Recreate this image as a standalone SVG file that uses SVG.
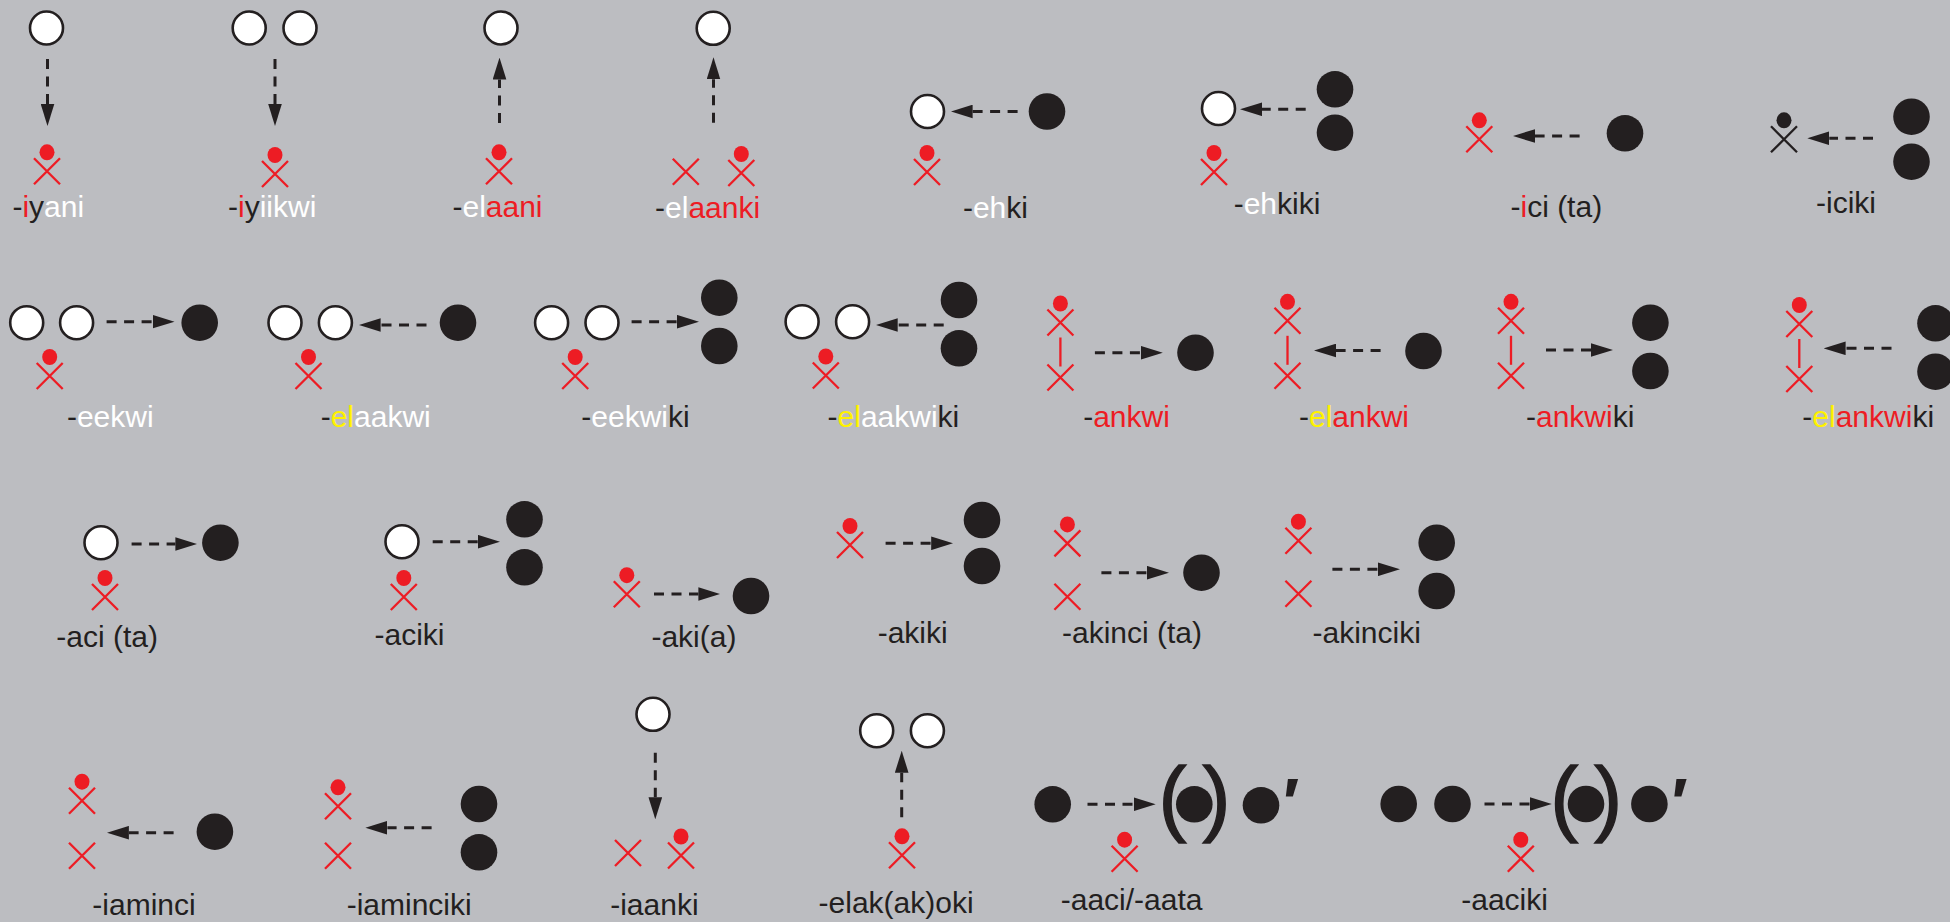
<svg xmlns="http://www.w3.org/2000/svg" xmlns:xlink="http://www.w3.org/1999/xlink" width="1950" height="922" viewBox="0 0 1950 922">
<style>
.w{fill:#fff;stroke:#231f20;stroke-width:2.6}
.b{fill:#231f20}
.arr{fill:none;stroke:#231f20;stroke-width:3;stroke-dasharray:10 7.5;marker-end:url(#ah)}
.rl{stroke:#ed1c24;stroke-width:2.3;fill:none}
.lbl{font-family:"Liberation Sans",Arial,sans-serif;font-size:30px;fill:#231f20;text-anchor:middle}
.r{fill:#ed1c24}.wt{fill:#fff}.y{fill:#fff200}
.par{font-family:"Liberation Sans",Arial,sans-serif;font-size:84px;fill:#231f20;stroke:#231f20;stroke-width:1.3;text-anchor:middle}
.pr{font-family:"Liberation Sans",Arial,sans-serif;font-weight:bold;font-size:68px;fill:#231f20}
</style>
<defs>
<marker id="ah" markerUnits="userSpaceOnUse" markerWidth="22" markerHeight="14" viewBox="0 0 21 13" refX="0" refY="6.5" orient="auto"><path d="M0,0 L21,6.5 L0,13 Z" fill="#231f20"/></marker>
<g id="xm"><path class="rl" d="M-13,-13 L13,13 M13,-13 L-13,13"/></g>
<g id="ps"><ellipse cx="0" cy="-19" rx="7.5" ry="8" fill="#ed1c24"/><path class="rl" d="M-13,-13 L13,13 M13,-13 L-13,13"/></g>
<g id="psk"><ellipse cx="0" cy="-19" rx="7.5" ry="8" fill="#231f20"/><path d="M-13,-13 L13,13 M13,-13 L-13,13" stroke="#231f20" stroke-width="2.3"/></g>
<g id="stk"><use xlink:href="#ps"/><path class="rl" d="M0,15 V44"/><use xlink:href="#xm" y="55"/></g>
</defs>
<rect width="1950" height="922" fill="#bcbdc1"/>

<g id="connectors">
<path class="arr" d="M47.5,59 V104"/>
<path class="arr" d="M275,59 V104"/>
<path class="arr" d="M499.5,123 V79.5"/>
<path class="arr" d="M713.5,122.7 V79.3"/>
<path class="arr" d="M1017.6,111.5 H972.6"/>
<path class="arr" d="M1305.7,109.3 H1262"/>
<path class="arr" d="M1579.6,136 H1535"/>
<path class="arr" d="M1873,138.3 H1829.3"/>
<path class="arr" d="M106.6,321.7 H152.5"/>
<path class="arr" d="M426.5,325 H380.6"/>
<path class="arr" d="M631.6,321.7 H677"/>
<path class="arr" d="M943.7,325 H897.7"/>
<path class="arr" d="M1094.9,352.7 H1140.8"/>
<path class="arr" d="M1380.6,350.5 H1336"/>
<path class="arr" d="M1546,350 H1591"/>
<path class="arr" d="M1891.5,348.3 H1845.6"/>
<path class="arr" d="M131.6,544 H175.4"/>
<path class="arr" d="M432.7,541.7 H478"/>
<path class="arr" d="M654,594 H698.4"/>
<path class="arr" d="M885.6,543.3 H931.2"/>
<path class="arr" d="M1101.4,572.7 H1147"/>
<path class="arr" d="M1332.4,569.3 H1378"/>
<path class="arr" d="M173.6,832.7 H128.9"/>
<path class="arr" d="M431.6,827.7 H387.4"/>
<path class="arr" d="M655.3,752.7 V797.3"/>
<path class="arr" d="M901.7,817.3 V772.7"/>
<path class="arr" d="M1087.5,804.3 H1133.7"/>
<path class="arr" d="M1484.5,804 H1529.8"/>
</g>

<g id="n-iyani">
<circle class="w" cx="46.5" cy="28" r="16.5"/>
<use xlink:href="#ps" x="47" y="171.3"/>
<text class="lbl" x="48.3" y="216.7">-<tspan class="r">i</tspan>y<tspan class="wt">ani</tspan></text>
</g>
<g id="n-iyiikwi">
<circle class="w" cx="249.2" cy="28" r="16.5"/><circle class="w" cx="300" cy="28" r="16.5"/>
<use xlink:href="#ps" x="275" y="174"/>
<text class="lbl" x="272.2" y="216.7">-<tspan class="r">i</tspan>y<tspan class="wt">iikwi</tspan></text>
</g>
<g id="n-elaani">
<circle class="w" cx="501" cy="28" r="16.5"/>
<use xlink:href="#ps" x="499" y="171.3"/>
<text class="lbl" x="497.5" y="216.7">-<tspan class="wt">el</tspan><tspan class="r">aani</tspan></text>
</g>
<g id="n-elaanki">
<circle class="w" cx="713.2" cy="28.3" r="16.5"/>
<use xlink:href="#xm" x="685.8" y="171.7"/>
<use xlink:href="#ps" x="741.3" y="173"/>
<text class="lbl" x="707.6" y="218">-<tspan class="wt">el</tspan><tspan class="r">aanki</tspan></text>
</g>
<g id="n-ehki">
<circle class="w" cx="927.5" cy="111.5" r="16.5"/><circle class="b" cx="1047" cy="111.5" r="18.3"/>
<use xlink:href="#ps" x="927" y="172"/>
<text class="lbl" x="995.4" y="218">-<tspan class="wt">eh</tspan>ki</text>
</g>
<g id="n-ehkiki">
<circle class="w" cx="1218.5" cy="108.5" r="16.5"/>
<circle class="b" cx="1335" cy="89.3" r="18.3"/><circle class="b" cx="1335" cy="132.7" r="18.3"/>
<use xlink:href="#ps" x="1214" y="172"/>
<text class="lbl" x="1277" y="214">-<tspan class="wt">eh</tspan>kiki</text>
</g>
<g id="n-ici">
<use xlink:href="#ps" x="1479.3" y="139.3"/>
<circle class="b" cx="1625" cy="133.3" r="18.3"/>
<text class="lbl" x="1556.3" y="216.7">-<tspan class="r">i</tspan>ci (ta)</text>
</g>
<g id="n-iciki">
<use xlink:href="#psk" x="1784" y="139.3"/>
<circle class="b" cx="1911.5" cy="116.7" r="18.3"/><circle class="b" cx="1911.5" cy="161.7" r="18.3"/>
<text class="lbl" x="1846" y="213">-iciki</text>
</g>

<g id="n-eekwi">
<circle class="w" cx="26.7" cy="322.7" r="16.5"/><circle class="w" cx="76.6" cy="322.7" r="16.5"/>
<circle class="b" cx="199.7" cy="322.7" r="18.3"/>
<use xlink:href="#ps" x="49.7" y="376"/>
<text class="lbl" x="110.3" y="426.7">-<tspan class="wt">eekwi</tspan></text>
</g>
<g id="n-elaakwi">
<circle class="w" cx="285" cy="322.7" r="16.5"/><circle class="w" cx="335.4" cy="322.7" r="16.5"/>
<circle class="b" cx="458" cy="322.7" r="18.3"/>
<use xlink:href="#ps" x="308.5" y="376"/>
<text class="lbl" x="375.7" y="426.7">-<tspan class="y">el</tspan><tspan class="wt">aakwi</tspan></text>
</g>
<g id="n-eekwiki">
<circle class="w" cx="551.6" cy="322.7" r="16.5"/><circle class="w" cx="602" cy="322.7" r="16.5"/>
<circle class="b" cx="719.3" cy="297.7" r="18.3"/><circle class="b" cx="719.3" cy="346" r="18.3"/>
<use xlink:href="#ps" x="575.2" y="376"/>
<text class="lbl" x="635.5" y="426.7">-<tspan class="wt">eekwi</tspan>ki</text>
</g>
<g id="n-elaakwiki">
<circle class="w" cx="802.1" cy="321.7" r="16.5"/><circle class="w" cx="852.6" cy="321.7" r="16.5"/>
<circle class="b" cx="959" cy="300" r="18.3"/><circle class="b" cx="959" cy="348.3" r="18.3"/>
<use xlink:href="#ps" x="825.8" y="375.5"/>
<text class="lbl" x="893.4" y="426.7">-<tspan class="y">el</tspan><tspan class="wt">aakwi</tspan>ki</text>
</g>
<g id="n-ankwi">
<use xlink:href="#stk" x="1060.4" y="322.5"/>
<circle class="b" cx="1195.5" cy="352.7" r="18.3"/>
<text class="lbl" x="1126.5" y="426.7">-<tspan class="r">ankwi</tspan></text>
</g>
<g id="n-elankwi">
<use xlink:href="#stk" x="1287.5" y="320.8"/>
<circle class="b" cx="1423.5" cy="351" r="18.3"/>
<text class="lbl" x="1354" y="426.7">-<tspan class="y">el</tspan><tspan class="r">ankwi</tspan></text>
</g>
<g id="n-ankwiki">
<use xlink:href="#stk" x="1511" y="320.8"/>
<circle class="b" cx="1650.4" cy="322.7" r="18.3"/><circle class="b" cx="1650.4" cy="371" r="18.3"/>
<text class="lbl" x="1580.2" y="426.7">-<tspan class="r">ankwi</tspan>ki</text>
</g>
<g id="n-elankwiki">
<use xlink:href="#stk" x="1799.3" y="324"/>
<circle class="b" cx="1935.5" cy="323.3" r="18.3"/><circle class="b" cx="1935.5" cy="371.7" r="18.3"/>
<text class="lbl" x="1868.2" y="426.7">-<tspan class="y">el</tspan><tspan class="r">ankwi</tspan>ki</text>
</g>

<g id="n-aci">
<circle class="w" cx="101" cy="542.7" r="16.5"/><circle class="b" cx="220.4" cy="542.7" r="18.3"/>
<use xlink:href="#ps" x="105" y="597"/>
<text class="lbl" x="107.2" y="646.7">-aci (ta)</text>
</g>
<g id="n-aciki">
<circle class="w" cx="402" cy="541.7" r="16.5"/>
<circle class="b" cx="524.5" cy="519.3" r="18.3"/><circle class="b" cx="524.5" cy="567.3" r="18.3"/>
<use xlink:href="#ps" x="403.8" y="597"/>
<text class="lbl" x="409.5" y="645">-aciki</text>
</g>
<g id="n-akia">
<use xlink:href="#ps" x="626.8" y="594.2"/>
<circle class="b" cx="751" cy="596" r="18.3"/>
<text class="lbl" x="693.9" y="646.7">-aki(a)</text>
</g>
<g id="n-akiki">
<use xlink:href="#ps" x="850" y="545"/>
<circle class="b" cx="982" cy="520" r="18.3"/><circle class="b" cx="982" cy="566" r="18.3"/>
<text class="lbl" x="912.7" y="643.3">-akiki</text>
</g>
<g id="n-akinci">
<use xlink:href="#ps" x="1067.4" y="543.4"/><use xlink:href="#xm" x="1067.4" y="596.7"/>
<circle class="b" cx="1201.5" cy="572.7" r="18.3"/>
<text class="lbl" x="1132" y="643.3">-akinci (ta)</text>
</g>
<g id="n-akinciki">
<use xlink:href="#ps" x="1298.4" y="540.7"/><use xlink:href="#xm" x="1298.4" y="593.8"/>
<circle class="b" cx="1436.7" cy="542.7" r="18.3"/><circle class="b" cx="1436.7" cy="591" r="18.3"/>
<text class="lbl" x="1366.7" y="643.3">-akinciki</text>
</g>

<g id="n-iaminci">
<use xlink:href="#ps" x="82" y="800.7"/><use xlink:href="#xm" x="82" y="855.7"/>
<circle class="b" cx="214.9" cy="831.7" r="18.3"/>
<text class="lbl" x="144" y="915">-iaminci</text>
</g>
<g id="n-iaminciki">
<use xlink:href="#ps" x="338" y="806.3"/><use xlink:href="#xm" x="338" y="855.7"/>
<circle class="b" cx="479" cy="804" r="18.3"/><circle class="b" cx="479" cy="852.3" r="18.3"/>
<text class="lbl" x="409.2" y="915">-iaminciki</text>
</g>
<g id="n-iaanki">
<circle class="w" cx="653" cy="714.3" r="16.5"/>
<use xlink:href="#xm" x="628" y="853"/><use xlink:href="#ps" x="681" y="855.5"/>
<text class="lbl" x="654.4" y="915">-iaanki</text>
</g>
<g id="n-elakakoki">
<circle class="w" cx="876.7" cy="730.7" r="16.5"/><circle class="w" cx="927.4" cy="730.7" r="16.5"/>
<use xlink:href="#ps" x="902" y="855.3"/>
<text class="lbl" x="896.1" y="913.3">-elak(ak)oki</text>
</g>
<g id="n-aaci">
<circle class="b" cx="1052.7" cy="804.3" r="18.3"/>
<text class="par" x="1172.5" y="826.2">(</text>
<circle class="b" cx="1194.3" cy="804.3" r="18.3"/>
<text class="par" x="1216.5" y="826.2">)</text>
<circle class="b" cx="1261" cy="805.3" r="18.3"/>
<text class="pr" x="1283" y="826">′</text>
<use xlink:href="#ps" x="1124.6" y="858.7"/>
<text class="lbl" x="1131.6" y="910">-aaci/-aata</text>
</g>
<g id="n-aaciki">
<circle class="b" cx="1398.7" cy="804" r="18.3"/><circle class="b" cx="1452.5" cy="804" r="18.3"/>
<text class="par" x="1564.2" y="826.2">(</text>
<circle class="b" cx="1586" cy="804" r="18.3"/>
<text class="par" x="1608.3" y="826.2">)</text>
<circle class="b" cx="1649.4" cy="804" r="18.3"/>
<text class="pr" x="1671.5" y="826">′</text>
<use xlink:href="#ps" x="1520.8" y="858.7"/>
<text class="lbl" x="1504.6" y="910">-aaciki</text>
</g>
</svg>
